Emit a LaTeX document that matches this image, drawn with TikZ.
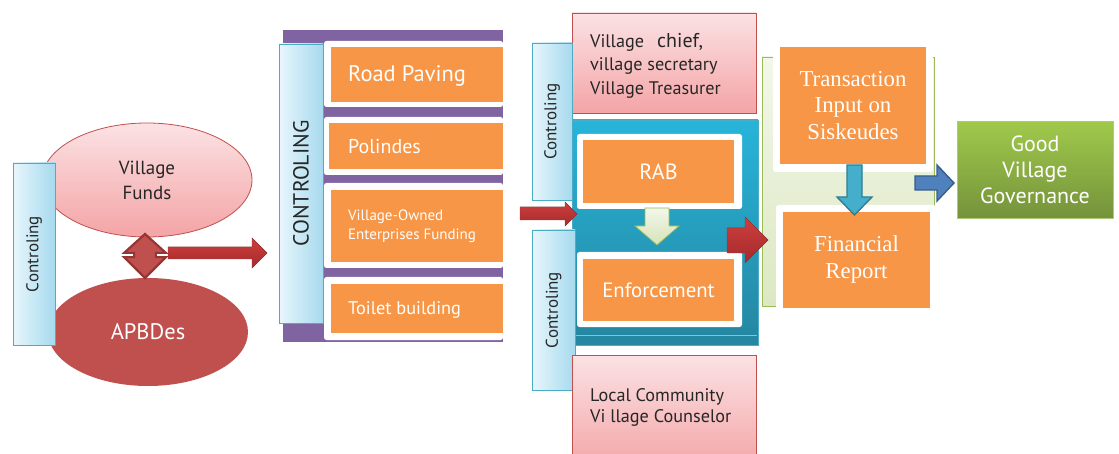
\documentclass[tikz,border=0pt]{standalone}
\usepackage{fontspec}
\usepackage{graphicx}
\usetikzlibrary{shapes.geometric}
\setmainfont{PT Sans}
\newfontfamily\serifface{Liberation Serif}
\newcommand\setfs[2]{\fontsize{#1}{#2}\selectfont}

\definecolor{orng}{HTML}{F79646}
\definecolor{purp}{HTML}{8064A2}
\definecolor{txtdark}{HTML}{262626}
\definecolor{pinkT}{HTML}{FBE2E4}
\definecolor{pinkB}{HTML}{F4A4A6}
\definecolor{pinkline}{HTML}{C0504D}
\definecolor{redA}{HTML}{C0504D}
\definecolor{redD}{HTML}{963634}
\definecolor{arrT}{HTML}{CE3F3E}
\definecolor{arrB}{HTML}{A52A2B}
\definecolor{barL}{HTML}{E8F6FC}
\definecolor{barR}{HTML}{A6DAEE}
\definecolor{barline}{HTML}{4BACC6}
\definecolor{blueT}{HTML}{27B4DA}
\definecolor{blueB}{HTML}{2586A0}
\definecolor{grnT}{HTML}{F3F7EA}
\definecolor{grnB}{HTML}{DCE8C2}
\definecolor{grnline}{HTML}{9BBB59}
\definecolor{goodT}{HTML}{A0C94B}
\definecolor{goodB}{HTML}{75923B}
\definecolor{tealF}{HTML}{44AECB}
\definecolor{tealD}{HTML}{2E7F96}
\definecolor{blueF}{HTML}{4F81BD}
\definecolor{blueD}{HTML}{385D8A}

\tikzset{
  box/.style={inner sep=0pt, outer sep=0pt},
  ctrlbar/.style={box, draw=barline, line width=0.9pt, left color=barL, right color=barR, text=txtdark},
  card/.style={box, fill=white, rounded corners=2.5pt},
  orangebox/.style={box, fill=orng, text=white},
  pinkbox/.style={box, draw=pinkline, line width=0.9pt, top color=pinkT, bottom color=pinkB, text=txtdark},
  redarrow/.style={top color=arrT, bottom color=arrB, draw=redD, line width=0.4pt},
  label/.style={inner sep=0pt, align=left, anchor=west}
}

\begin{document}
\begin{tikzpicture}[x=1pt,y=-1pt]
\useasboundingbox (0,0) rectangle (1119,454);

% ---------- funds and budget ----------
\node[box, ellipse, draw=pinkline, line width=0.8pt, top color=pinkT, bottom color=pinkB,
      minimum width=210pt, minimum height=114pt, align=center, text=txtdark, font=\setfs{19}{25}]
  (funds) at (147,180) {Village\\Funds};
\node[box, ellipse, fill=redA, minimum width=200pt, minimum height=108pt, text=white,
      font=\setfs{22.5}{24}]
  (apbdes) at (148,332) {APBDes};
\node[ctrlbar, minimum width=42pt, minimum height=182pt]
  (ctrlA) at (34,254) {\rotatebox{90}{\setfs{17}{20}Controling}};

% up-down block arrow between the two ellipses
\draw[draw=redD, line width=2.2pt, fill=redA, line join=miter]
  (145,234) -- (166,253) -- (156,253) -- (156,257) -- (166,257) -- (145,278)
  -- (124,257) -- (134,257) -- (134,253) -- (124,253) -- cycle;
\fill[white] (121,253.6) rectangle (133,256.4);
\fill[white] (157,253.6) rectangle (169,256.4);

% arrow to the programme list
\fill[redarrow] (168,247) -- (252,247) -- (252,238) -- (267,253) -- (252,268)
  -- (252,259) -- (168,259) -- cycle;

% ---------- village programmes ----------
\node[box, fill=purp, minimum width=220pt, minimum height=312pt] (prog) at (393,186) {};
\node[card, minimum width=179pt, minimum height=66pt] (c1) at (413.5,74) {};
\node[card, minimum width=179pt, minimum height=58pt] (c2) at (413.5,146) {};
\node[card, minimum width=179pt, minimum height=85pt] (c3) at (413.5,225.5) {};
\node[card, minimum width=179pt, minimum height=63pt] (c4) at (413.5,308.5) {};
\node[orangebox, minimum width=172pt, minimum height=55pt] (o1) at (417,74.5) {};
\node[orangebox, minimum width=174pt, minimum height=46pt] (o2) at (416,146) {};
\node[orangebox, minimum width=172pt, minimum height=72pt] (o3) at (417,226) {};
\node[orangebox, minimum width=172pt, minimum height=49pt] (o4) at (417,308.5) {};
\node[label, text=white, font=\setfs{22.5}{24}] (t1) at (348,76) {Road Paving};
\node[label, text=white, font=\setfs{20}{22}] (t2) at (348,147) {Polindes};
\node[label, text=white, font=\setfs{15}{19}] (t3) at (348,226.5) {Village-Owned\\Enterprises Funding};
\node[label, text=white, font=\setfs{18.3}{20}] (t4) at (348,310) {Toilet building};
\node[ctrlbar, minimum width=44pt, minimum height=279pt]
  (ctrlM) at (301,183.5) {\rotatebox{90}{\setfs{21.8}{24}CONTROLING}};

% ---------- planning and enforcement ----------
\node[pinkbox, minimum width=184pt, minimum height=100pt] (officials) at (664,63) {};
\node[label, text=txtdark, font=\setfs{18.2}{23.5}] (offtext) at (590,65.5)
  {\makebox[67pt][l]{Village}{\fontsize{20}{23.5}\selectfont chief,}\\village secretary\\Village Treasurer};
\node[ctrlbar, minimum width=40pt, minimum height=157pt]
  (ctrlB) at (552,121.5) {\rotatebox{90}{\setfs{17}{20}Controling}};

\node[box, draw=barline, line width=0.8pt, top color=blueT, bottom color=blueB,
      minimum width=186pt, minimum height=225pt] (plan) at (665,232.5) {};
\draw[barline!70, line width=0.6pt] ([xshift=1pt]plan.south west) ++(0,-10) -- ++(184,0);
\node[card, minimum width=165pt, minimum height=75pt] (rabcard) at (659.5,171.5) {};
\node[orangebox, minimum width=151pt, minimum height=63pt, font=\setfs{22}{24}] (rab) at (658.5,171.5)
  {RAB};
\node[card, minimum width=165pt, minimum height=75pt] (enfcard) at (659.5,289.5) {};
\node[orangebox, minimum width=151pt, minimum height=62pt, font=\setfs{20.8}{24}] (enf) at (658.5,290)
  {Enforcement};

% RAB down to enforcement
\draw[draw=grnline, line width=0.8pt, top color=grnT, bottom color=grnB!90!grnline]
  (645,208) -- (669,208) -- (669,226) -- (679,226) -- (657,245) -- (635,226)
  -- (645,226) -- cycle;

\node[ctrlbar, minimum width=43pt, minimum height=160pt]
  (ctrlC) at (553.5,310) {\rotatebox{90}{\setfs{17}{20}Controling}};
\node[pinkbox, minimum width=184pt, minimum height=115pt] (community) at (664,412.5) {};
\node[label, text=txtdark, font=\setfs{18.2}{21}] (comtext) at (590,407.5)
  {Local Community\\Vi llage Counselor};

% programmes into planning
\fill[redarrow] (520,207) -- (565,207) -- (565,202) -- (577,214) -- (565,226)
  -- (565,220) -- (520,220) -- cycle;

% ---------- reporting ----------
\node[box, draw=grnline, line width=0.9pt, top color=grnT, bottom color=grnB,
      minimum width=172pt, minimum height=249pt] (report) at (848,181.5) {};
\node[card, minimum width=160pt, minimum height=132pt] (tcard) at (853,106) {};
\node[orangebox, minimum width=146pt, minimum height=117pt, align=center,
      font=\serifface\setfs{22.8}{26.5}] (trans) at (853,105.5)
  {Transaction\\Input on\\Siskeudes};
\node[card, minimum width=160pt, minimum height=107pt] (fcard) at (856,258.5) {};
\node[orangebox, minimum width=147pt, minimum height=96pt, align=center,
      font=\serifface\setfs{22.8}{27}] (fin) at (856.5,260)
  {Financial\\Report};

% planning into reporting
\fill[redarrow] (727,228) -- (745,228) -- (745,217) -- (768,240) -- (745,263)
  -- (745,253) -- (727,253) -- cycle;

% transaction input down to the report
\draw[draw=tealD, line width=1.4pt, fill=tealF]
  (847,165) -- (862,165) -- (862,197) -- (872,197) -- (854.5,215) -- (837,197)
  -- (847,197) -- cycle;

% report to governance
\draw[draw=blueD, line width=1.4pt, fill=blueF]
  (915,176) -- (937,176) -- (937,165) -- (954,183) -- (937,201) -- (937,190)
  -- (915,190) -- cycle;

\node[box, draw=grnline!80!white, line width=0.8pt, top color=goodT, bottom color=goodB,
      minimum width=156pt, minimum height=97pt, align=center, text=white, font=\setfs{22}{26}]
  (good) at (1035,170) {Good\\Village\\Governance};
\end{tikzpicture}
\end{document}
